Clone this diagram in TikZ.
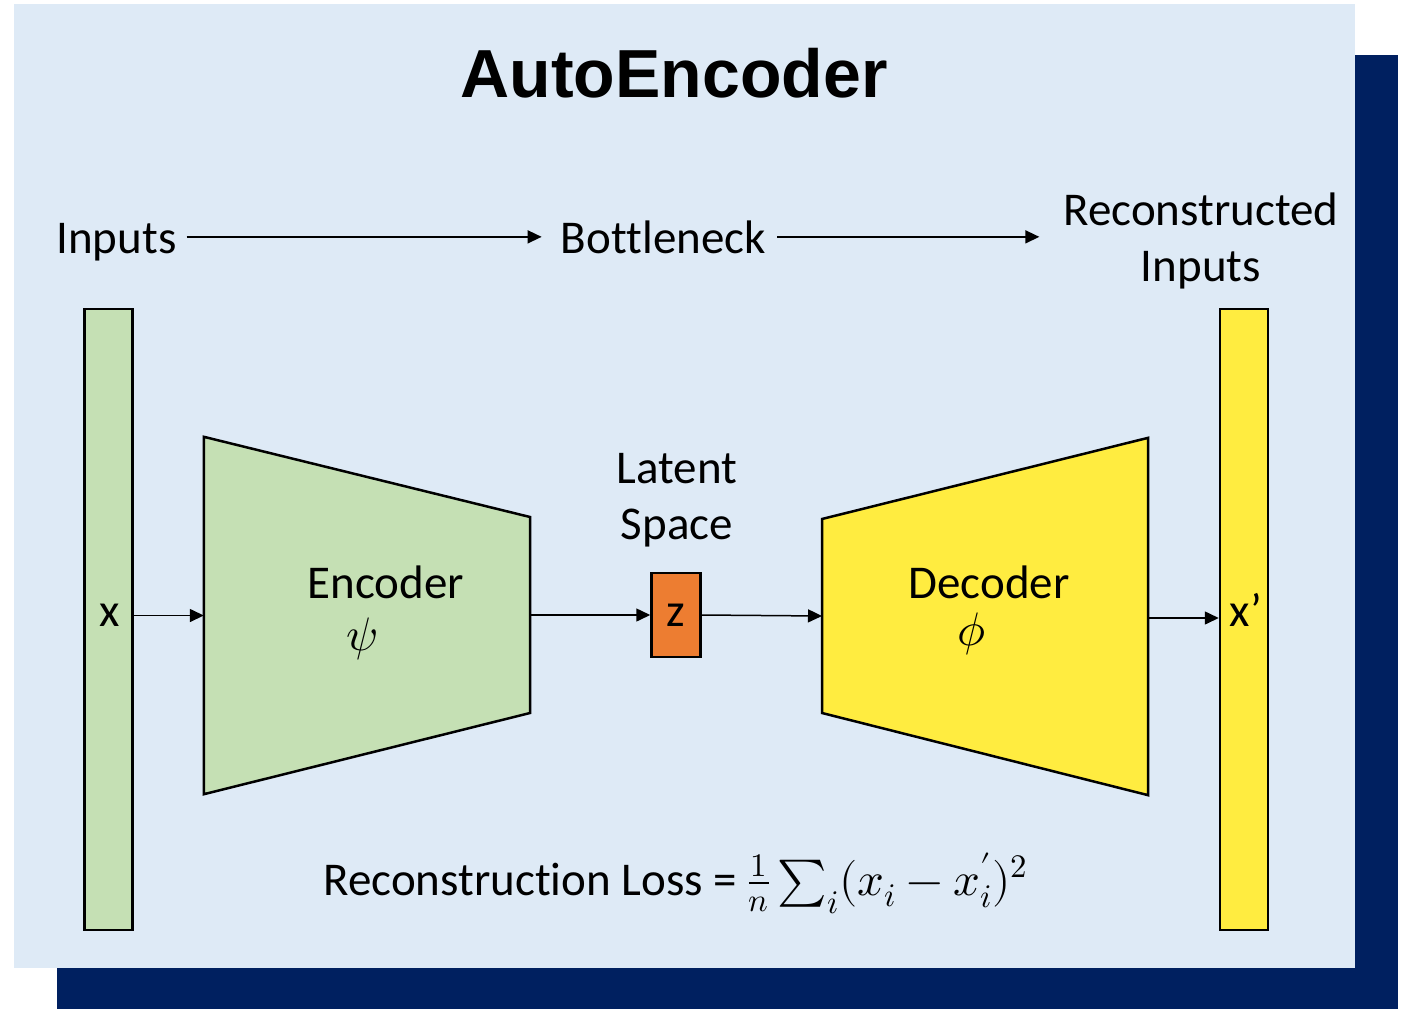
\documentclass[tikz,border=0pt]{standalone}
\usepackage{fontspec}
\usepackage{unicode-math}
\setmainfont[Ligatures=NoCommon]{Carlito}
\setmathfont{Latin Modern Math}
\newfontfamily\titlefont{Liberation Sans}
\usetikzlibrary{arrows.meta}
\definecolor{bgblue}{HTML}{DEEAF6}
\definecolor{navy}{HTML}{002060}
\definecolor{encgreen}{HTML}{C5E0B4}
\definecolor{decyellow}{HTML}{FFEC40}
\definecolor{zorange}{HTML}{ED7D31}
\tikzset{
  lbl/.style={inner sep=0pt, font=\fontsize{47}{56}\selectfont, align=center},
  col/.style={draw=black, line width=2.5pt, minimum width=48pt, minimum height=621pt, inner sep=0pt},
  block/.style={draw=black, line width=2.5pt},
  flow/.style={line width=1.5pt, -{Triangle[length=14pt,width=13pt]}},
}
\begin{document}
\begin{tikzpicture}[x=1pt,y=-1pt]
\useasboundingbox (0,0) rectangle (1403,1009);
\fill[navy] (57,55) rectangle (1398,1009);
\fill[bgblue] (14,4) rectangle (1355,968);
% title
\node[inner sep=0pt, anchor=base, font=\titlefont\bfseries\fontsize{68}{80}\selectfont] (title) at (674,97) {AutoEncoder};
% top labels
\node[lbl, anchor=base] (inputs) at (116.5,253) {Inputs};
\node[lbl, anchor=base] (bottleneck) at (663.5,253) {Bot\kern0pt tleneck};
\node[lbl, anchor=base] (recon) at (1201,281) {Reconstructed\\Inputs};
\draw[flow, shorten <=10pt, shorten >=19pt] (inputs.east |- bottleneck.center) -- (bottleneck.west |- bottleneck.center);
\draw[flow, shorten <=11pt, shorten >=24pt] (bottleneck.east |- bottleneck.center) -- (recon.west |- bottleneck.center);
% columns
\node[col, fill=encgreen] (xcol) at (108.5,619.5) {};
\node[col, fill=decyellow] (xpcol) at (1244,619.5) {};
\node[lbl, anchor=base] (xlab) at (110,626) {x};
\node[lbl, anchor=base] (xplab) at (1246,626) {x’};
% encoder / decoder bounding nodes
\node[inner sep=0pt, minimum width=326pt, minimum height=357pt] (enc) at (367,615.5) {};
\node[inner sep=0pt, minimum width=326pt, minimum height=357pt] (dec) at (985,616.5) {};
\draw[block, fill=encgreen] (enc.north west) -- (530,517) -- (530,713) -- (enc.south west) -- cycle;
\draw[block, fill=decyellow] (dec.north east) -- (822,519) -- (822,713) -- (dec.south east) -- cycle;
\node[lbl, anchor=base] (enclab) at (386,598) {Encoder};
\node[lbl, anchor=base] (psi) at (362,650) {$\psi$};
\node[lbl, anchor=base] (declab) at (989,598) {Decoder};
\node[lbl, anchor=base] (phi) at (972,645) {$\phi$};
% latent
\node[lbl, anchor=base] (latent) at (677,539) {Latent\\Space};
\node[draw=black, line width=2.5pt, fill=zorange, minimum width=49pt, minimum height=84pt, inner sep=0pt] (z) at (676,615) {};
\node[lbl, anchor=base] (zlab) at (676,626) {z};
% connectors
\draw[flow] (xcol.east |- enc.center) -- (enc.west);
\draw[flow] (530,615) coordinate (encout) -- (z.west |- encout);
\draw[flow] (z.east) -- (822,616);
\draw[flow] (1148,618) coordinate (decout) -- (xpcol.west |- decout);
% loss
\node[lbl, anchor=base] (loss) at (675.5,895) {Reconstruc\kern0pt tion Loss = $\frac{1}{n}\sum_i(x_i-x'_i)^2$};
\end{tikzpicture}
\end{document}
